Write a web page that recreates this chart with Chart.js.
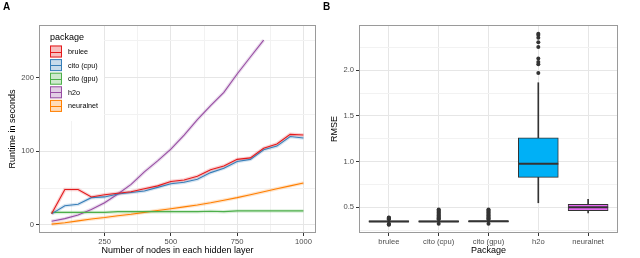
<!DOCTYPE html>
<html>
<head>
<meta charset="utf-8">
<script src="https://cdn.jsdelivr.net/npm/chart.js@4/dist/chart.umd.min.js"></script>
<style>
  html, body { margin: 0; padding: 0; background: #fff; }
  #wrap { position: relative; width: 640px; height: 258px; }
  .panel { position: absolute; top: 0; width: 320px; height: 258px; }
  .tag { position: absolute; top: 1px; font: bold 10px "Liberation Sans", Arial, sans-serif; color: #000; }
</style>
</head>
<body>
<div id="wrap">
  <div class="panel" style="left:0"><canvas id="chart-runtime" width="320" height="258"></canvas></div>
  <div class="panel" style="left:320px"><canvas id="chart-rmse" width="320" height="258"></canvas></div>
  <div class="tag" style="left:3px">A</div>
  <div class="tag" style="left:323px">B</div>
</div>
<script>
/* two panels: A = runtime vs hidden layer size, B = RMSE box plots per package */

const FONT = '"Liberation Sans", Arial, sans-serif';

// panel A data
const NODES = [50, 100, 150, 200, 250, 300, 350, 400, 450, 500, 550, 600, 650, 700, 750, 800, 850, 900, 950, 1000];
const RT_BRULEE = [15, 48, 48, 38, 41, 43, 45, 49, 53, 59, 61, 66, 75, 80, 89, 91, 104, 110, 123, 122];
const RT_CITO_CPU = [15, 26, 28, 37, 38, 42, 44, 46, 51, 56, 58, 62, 71, 77, 86, 89, 102, 107, 120, 118];
const RT_CITO_GPU = [17, 17, 17, 17, 17, 18, 18, 18, 18, 18, 18, 18, 18.5, 18, 19, 19, 19, 19, 19, 19];
const RT_H2O = [5, 8.5, 13.5, 21, 30, 42, 55, 72, 87, 103, 122, 143, 162, 180, 205, 228, 251];
const RT_NEURALNET = [1, 3, 5.5, 8, 10, 12.5, 14.5, 17, 19.5, 22, 24.5, 27, 30, 33.5, 37, 41, 45, 49, 53, 57];
const RT_X_TICKS = [250, 500, 750, 1000];
const RT_X_MINOR = [125, 375, 625, 875];
const RT_Y_TICKS = [0, 100, 200];
const RT_Y_MINOR = [50, 150, 250];

// panel B data
const PACKAGES = ["brulee", "cito (cpu)", "cito (gpu)", "h2o", "neuralnet"];
const BOX_LOW = [0.33, 0.33, 0.33, 0.55, 0.44];
const BOX_Q1 = [0.340, 0.340, 0.341, 0.828, 0.463];
const BOX_MED = [0.346, 0.346, 0.347, 0.977, 0.500];
const BOX_Q3 = [0.352, 0.352, 0.353, 1.262, 0.533];
const BOX_HIGH = [0.365, 0.365, 0.366, 1.864, 0.587];
const OUTLIERS = [
  [0.31, 0.315, 0.32, 0.37, 0.375, 0.38, 0.385, 0.39],
  [0.32, 0.37, 0.38, 0.39, 0.40, 0.41, 0.42, 0.43, 0.44, 0.45, 0.46, 0.47, 0.475],
  [0.32, 0.37, 0.38, 0.39, 0.40, 0.41, 0.42, 0.43, 0.44, 0.45, 0.46, 0.47, 0.475],
  [1.97, 2.066, 2.09, 2.13, 2.255, 2.306, 2.357, 2.386, 2.40],
  [],
];
const RMSE_Y_TICKS = [0.5, 1.0, 1.5, 2.0];
const RMSE_Y_MINOR = [0.25, 0.75, 1.25, 1.75, 2.25];

const SERIES = [
  { name: "brulee", values: RT_BRULEE, color: "#E41A1C" },
  { name: "cito (cpu)", values: RT_CITO_CPU, color: "#377EB8" },
  { name: "cito (gpu)", values: RT_CITO_GPU, color: "#4DAF4A" },
  { name: "h2o", values: RT_H2O, color: "#984EA3" },
  { name: "neuralnet", values: RT_NEURALNET, color: "#FF7F00" },
];
const BOX_FILL = ["#F8766D", "#A3A500", "#00BF7D", "#00B0F6", "#E76BF3"];

const GRID_MAJOR = "#e6e6e6";
const GRID_MINOR = "#f2f2f2";
const TICK_COLOR = "#4d4d4d";
const BORDER_COLOR = "#9a9a9a";

function alpha(hex, a) {
  const n = parseInt(hex.slice(1), 16);
  return `rgba(${n >> 16},${(n >> 8) & 255},${n & 255},${a})`;
}

// majors get labels + tick marks, minors only a light grid line
function fixedTicks(major, minor) {
  return (scale) => {
    scale.ticks = major.map((v) => ({ value: v, major: true }))
      .concat(minor.map((v) => ({ value: v, major: false })))
      .sort((a, b) => a.value - b.value);
  };
}

function axis(opts) {
  return {
    type: "linear",
    min: opts.min, max: opts.max,
    offset: false,
    afterBuildTicks: fixedTicks(opts.major, opts.minor),
    afterFit: opts.afterFit,
    border: { display: false },
    grid: {
      offset: false,
      color: (c) => (c.tick && c.tick.major ? GRID_MAJOR : GRID_MINOR),
      tickColor: (c) => (c.tick && c.tick.major ? "#333" : "rgba(0,0,0,0)"),
      tickLength: 3,
      lineWidth: 1,
    },
    ticks: {
      autoSkip: false, maxRotation: 0,
      padding: opts.tickPad,
      color: TICK_COLOR,
      font: { family: FONT, size: 7.6 },
      callback: (v, i, ticks) => (ticks[i].major ? opts.label(v) : ""),
    },
    title: {
      display: true, text: opts.title, color: "#000",
      font: { family: FONT, size: 9 },
      padding: opts.titlePad,
    },
  };
}

const panelBorder = {
  id: "panelBorder",
  afterDraw(chart) {
    const { ctx, chartArea: a } = chart;
    ctx.save();
    ctx.strokeStyle = BORDER_COLOR;
    ctx.lineWidth = 1;
    ctx.strokeRect(Math.round(a.left) + 0.5, Math.round(a.top) + 0.5, Math.round(a.right - a.left) - 1, Math.round(a.bottom - a.top) - 1);
    ctx.restore();
  },
};

// ggplot-style legend sitting inside the top-left of panel A
const insideLegend = {
  id: "insideLegend",
  afterDatasetsDraw(chart) {
    const { ctx, chartArea: a } = chart;
    ctx.save();
    ctx.fillStyle = "#fff";
    ctx.fillRect(a.left + 1, a.top + 1, 64, 95);
    ctx.fillStyle = "#000";
    ctx.font = `9px ${FONT}`;
    ctx.textBaseline = "alphabetic";
    ctx.fillText("package", 50, 39.5);
    ctx.font = `7.2px ${FONT}`;
    ctx.textBaseline = "middle";
    SERIES.forEach((s, i) => {
      const y = 45.5 + i * 13.6;
      ctx.fillStyle = alpha(s.color, 0.28);
      ctx.fillRect(50, y, 12, 12);
      ctx.strokeStyle = s.color;
      ctx.lineWidth = 1;
      ctx.strokeRect(50.5, y + 0.5, 11, 11);
      ctx.beginPath();
      ctx.moveTo(50.5, Math.round(y + 6) + 0.5);
      ctx.lineTo(61.5, Math.round(y + 6) + 0.5);
      ctx.stroke();
      ctx.fillStyle = "#000";
      ctx.fillText(s.name, 68, y + 6.5);
    });
    ctx.restore();
  },
};

const runtimeDatasets = [];
SERIES.forEach((s) => {
  const pts = s.values.map((v, i) => ({ x: NODES[i], y: v }));
  runtimeDatasets.push({ label: s.name, data: pts, borderColor: s.color, borderWidth: 1.1, pointRadius: 0, tension: 0, order: 0 });
  runtimeDatasets.push({ label: s.name + " band", data: pts, borderColor: alpha(s.color, 0.2), borderWidth: 3.5, pointRadius: 0, tension: 0, order: 1 });
});

new Chart(document.getElementById("chart-runtime"), {
  type: "line",
  data: { datasets: runtimeDatasets },
  options: {
    responsive: false, animation: false,
    layout: { padding: { top: 25, right: 4, left: 0, bottom: 0 } },
    plugins: { legend: { display: false }, tooltip: { enabled: false } },
    scales: {
      x: axis({
        min: 2.5, max: 1047.5, major: RT_X_TICKS, minor: RT_X_MINOR,
        label: (v) => String(v), title: "Number of nodes in each hidden layer",
        tickPad: 1, titlePad: { top: 0, bottom: 2.5 },
        afterFit: (s) => { s.height = 25; },
      }),
      y: axis({
        min: -11, max: 271.5, major: RT_Y_TICKS, minor: RT_Y_MINOR,
        label: (v) => String(v), title: "Runtime in seconds",
        tickPad: 2, titlePad: { top: 7.5, bottom: 0 },
        afterFit: (s) => { s.width = 39; },
      }),
    },
  },
  plugins: [insideLegend, panelBorder],
});

const xs = PACKAGES.map((_, i) => i + 1);
const outlierPts = [];
OUTLIERS.forEach((list, i) => list.forEach((v) => outlierPts.push({ x: xs[i], y: v })));

new Chart(document.getElementById("chart-rmse"), {
  type: "bar",
  data: {
    datasets: [
      {
        label: "whisker", data: xs.map((x, i) => ({ x, y: [BOX_LOW[i], BOX_HIGH[i]] })),
        backgroundColor: "#333", barThickness: 1, grouped: false, order: 3,
      },
      {
        label: "box", data: xs.map((x, i) => ({ x, y: [BOX_Q1[i], BOX_Q3[i]] })),
        backgroundColor: BOX_FILL, borderColor: "#333", borderWidth: 1, borderSkipped: false,
        barThickness: 40, grouped: false, order: 2,
      },
      {
        type: "scatter", label: "median", data: xs.map((x, i) => ({ x, y: BOX_MED[i] })),
        pointStyle: "line", pointRadius: 20, borderColor: "#333", borderWidth: 2, order: 1,
      },
      {
        type: "scatter", label: "outliers", data: outlierPts,
        pointRadius: 2, backgroundColor: "#333", borderWidth: 0, order: 0,
      },
    ],
  },
  options: {
    responsive: false, animation: false,
    layout: { padding: { top: 25, right: 4, left: 0, bottom: 0 } },
    plugins: { legend: { display: false }, tooltip: { enabled: false } },
    scales: {
      x: axis({
        min: 0.4, max: 5.6, major: xs, minor: [],
        label: (v) => PACKAGES[v - 1], title: "Package",
        tickPad: 1, titlePad: { top: 0, bottom: 2.5 },
        afterFit: (s) => { s.height = 25; },
      }),
      y: axis({
        min: 0.219, max: 2.496, major: RMSE_Y_TICKS, minor: RMSE_Y_MINOR,
        label: (v) => v.toFixed(1), title: "RMSE",
        tickPad: 2, titlePad: { top: 9.5, bottom: 0 },
        afterFit: (s) => { s.width = 39; },
      }),
    },
  },
  plugins: [panelBorder],
});
</script>
</body>
</html>
